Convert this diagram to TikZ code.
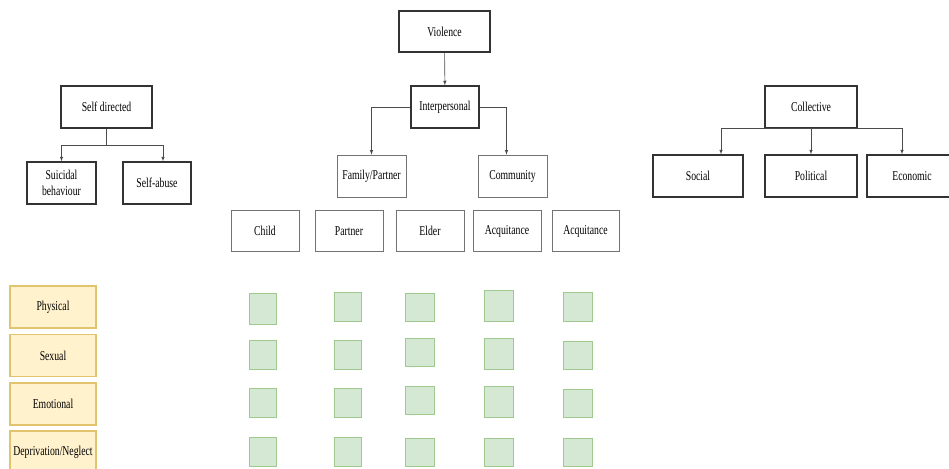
\documentclass[tikz,border=0pt]{standalone}
\usepackage{fontspec}
\setmainfont{Liberation Serif}
\newfontfamily\tallserif{Liberation Serif}[FakeStretch=0.72]
\usepackage{tikz}
\usetikzlibrary{arrows}
\definecolor{catfill}{HTML}{FFF2CC}
\definecolor{catline}{HTML}{E2C46E}
\definecolor{cellfill}{HTML}{D5E8D4}
\definecolor{cellline}{HTML}{9FC98E}
\tikzset{lbl/.style={font=\tallserif\fontsize{13.5}{15.5}\selectfont}}
\tikzset{main/.style={lbl,draw=black!80,line width=1.3pt,minimum width=91pt,minimum height=42pt,inner sep=0pt}}
\tikzset{sub/.style={lbl,draw=black!55,line width=0.7pt,minimum width=68pt,minimum height=41pt,inner sep=0pt}}
\tikzset{kind/.style={lbl,draw=catline,fill=catfill,line width=1.1pt,minimum width=86pt,minimum height=42pt,inner sep=0pt}}
\tikzset{cell/.style={draw=cellline,fill=cellfill,line width=0.9pt,minimum width=27pt,minimum height=29pt,inner sep=0pt}}
\tikzset{link/.style={->,>=latex,draw=black!70,line width=0.6pt}}
\begin{document}
\begin{tikzpicture}[x=1pt,y=-1pt]
  \useasboundingbox (0,0) rectangle (949,468);
  \clip (0,0) rectangle (949,468);
  % self directed branch
  \node[main] (self) at (106.5,107) {Self directed};
  \node[main,minimum width=69pt,align=center] (suic) at (61.5,183) {Suicidal\\behaviour};
  \node[main,minimum width=68pt] (abuse) at (157,183) {Self-abuse};
  \draw[link] (self.south) -- ++(0,17) -| (suic.north);
  \draw[link] (self.south) -- ++(0,17) -| ([xshift=6pt]abuse.north);
  % interpersonal branch
  \node[main,minimum height=41pt] (viol) at (444.5,31.5) {Violence};
  \node[main,minimum width=68pt] (inter) at (445,107) {Interpersonal};
  \draw[link] (viol) -- (inter);
  \node[sub,minimum width=69pt,minimum height=42pt] (famp) at (371.5,176) {Family/Partner};
  \node[sub,minimum width=69pt,minimum height=42pt] (comm) at (512.5,176) {Community};
  \draw[link] (inter.west) -| (famp.north);
  \draw[link] (inter.east) -| ([xshift=-6pt]comm.north);
  \node[sub] (child) at (265,231) {Child};
  \node[sub] (partner) at (349,231) {Partner};
  \node[sub] (elder) at (430,231) {Elder};
  \node[sub] (acqa) at (507,231) {Acquitance};
  \node[sub,minimum width=67pt] (acqb) at (585.5,231) {Acquitance};
  % collective branch
  \node[main,minimum width=92pt] (coll) at (811,107) {Collective};
  \node[main,minimum width=90pt] (social) at (698,176) {Social};
  \node[main,minimum width=92pt] (polit) at (811,176) {Political};
  \node[main,minimum width=90pt] (econ) at (912,176) {Economic};
  \draw[link] (coll.south) -| ([xshift=23pt]social.north);
  \draw[link] (coll) -- (polit);
  \draw[link] (coll.south) -| ([xshift=-10pt]econ.north);
  % forms of violence
  \node[kind] (phys) at (53,307) {Physical};
  \node[kind] (sex) at (53,355.5) {Sexual};
  \node[kind] (emo) at (53,404) {Emotional};
  \node[kind] (depr) at (53,452) {Deprivation/Neglect};
  % grid of cells
  \node[cell,minimum height=31pt] (c11) at (263,308.5) {};
  \node[cell] (c21) at (263,355) {};
  \node[cell] (c31) at (263,403) {};
  \node[cell] (c41) at (263,452) {};
  \node[cell] (c12) at (348,307) {};
  \node[cell] (c22) at (348,355) {};
  \node[cell] (c32) at (348,403) {};
  \node[cell] (c42) at (348,452) {};
  \node[cell,minimum width=29pt,minimum height=28pt] (c13) at (419.5,307) {};
  \node[cell,minimum width=29pt,minimum height=28pt] (c23) at (419.5,352) {};
  \node[cell,minimum width=29pt,minimum height=28pt] (c33) at (419.5,400) {};
  \node[cell,minimum width=29pt,minimum height=28pt] (c43) at (419.5,452) {};
  \node[cell,minimum width=29pt,minimum height=31pt] (c14) at (498.5,305.5) {};
  \node[cell,minimum width=29pt,minimum height=31pt] (c24) at (498.5,353.5) {};
  \node[cell,minimum width=29pt,minimum height=31pt] (c34) at (498.5,401.5) {};
  \node[cell,minimum width=29pt,minimum height=28pt] (c44) at (498.5,452) {};
  \node[cell,minimum width=29pt] (c15) at (577.5,306.5) {};
  \node[cell,minimum width=29pt,minimum height=28pt] (c25) at (577.5,355) {};
  \node[cell,minimum width=29pt,minimum height=28pt] (c35) at (577.5,403) {};
  \node[cell,minimum width=29pt,minimum height=28pt] (c45) at (577.5,452) {};
\end{tikzpicture}
\end{document}
